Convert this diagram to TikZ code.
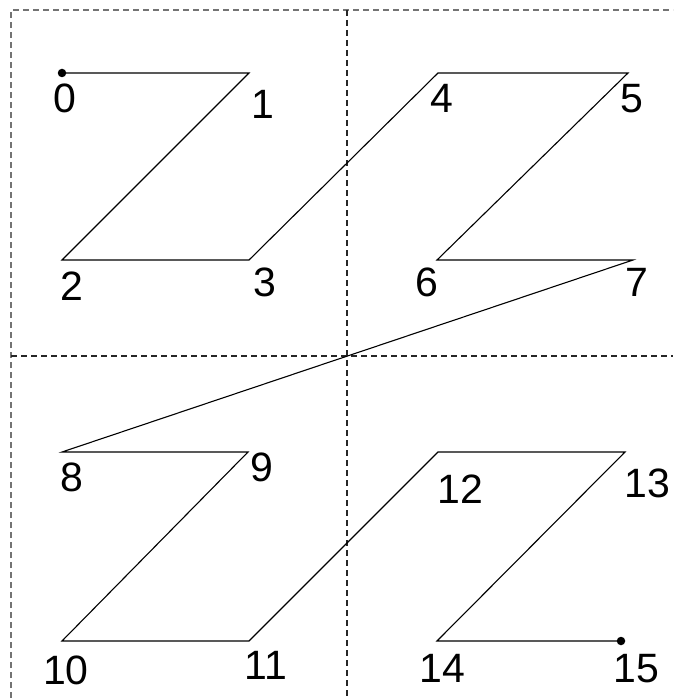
\documentclass[tikz,border=0pt]{standalone}
\usepackage{fontspec}
\setmainfont{Liberation Sans}
\begin{document}
\begin{tikzpicture}[x=1pt,y=-1pt,
  grid/.style={dash pattern=on 6pt off 4pt, line width=1.2pt},
  curve/.style={line width=1.1pt, black},
  lbl/.style={inner sep=0pt, font=\fontsize{41}{41}\selectfont},
  dot/.style={circle, fill=black, inner sep=0pt, minimum size=8.5pt}]
\useasboundingbox (0,0) rectangle (673,698);
% dashed frame and quadrant lines
\draw[grid, black!55] (11,698) -- (11,10) -- (673,10);
\draw[grid, black!85] (347,10) -- (347,698);
\draw[grid, black!85] (11,356) -- (673,356);
% curve points
\coordinate (p0) at (62,73);
\coordinate (p1) at (249,73);
\coordinate (p2) at (62,260);
\coordinate (p3) at (249,260);
\coordinate (p4) at (438,73);
\coordinate (p5) at (628,73);
\coordinate (p6) at (437,260);
\coordinate (p7) at (633,260);
\coordinate (p8) at (62,452);
\coordinate (p9) at (248,452);
\coordinate (p10) at (62,641);
\coordinate (p11) at (249,641);
\coordinate (p12) at (438,452);
\coordinate (p13) at (625,452);
\coordinate (p14) at (437,641);
\coordinate (p15) at (621,641);
\draw[curve] (p0) -- (p1) -- (p2) -- (p3) -- (p4) -- (p5) -- (p6) -- (p7)
  -- (p8) -- (p9) -- (p10) -- (p11) -- (p12) -- (p13) -- (p14) -- (p15);
\node[dot] (d0) at (p0) {};
\node[dot] (d15) at (p15) {};
% labels
\node[lbl] (l0) at (65,98) {0};
\node[lbl] (l1) at (263,104) {1};
\node[lbl] (l2) at (72,286) {2};
\node[lbl] (l3) at (265,282) {3};
\node[lbl] (l4) at (442,98) {4};
\node[lbl] (l5) at (632,99) {5};
\node[lbl] (l6) at (427,282) {6};
\node[lbl] (l7) at (637,282) {7};
\node[lbl] (l8) at (72,477) {8};
\node[lbl] (l9) at (262,467) {9};
\node[lbl] (l10) at (66,670) {10};
\node[lbl] (l11) at (266,665) {11};
\node[lbl] (l12) at (460,489) {12};
\node[lbl] (l13) at (647,483) {13};
\node[lbl] (l14) at (442,668) {14};
\node[lbl] (l15) at (636,669) {15};
\end{tikzpicture}
\end{document}
